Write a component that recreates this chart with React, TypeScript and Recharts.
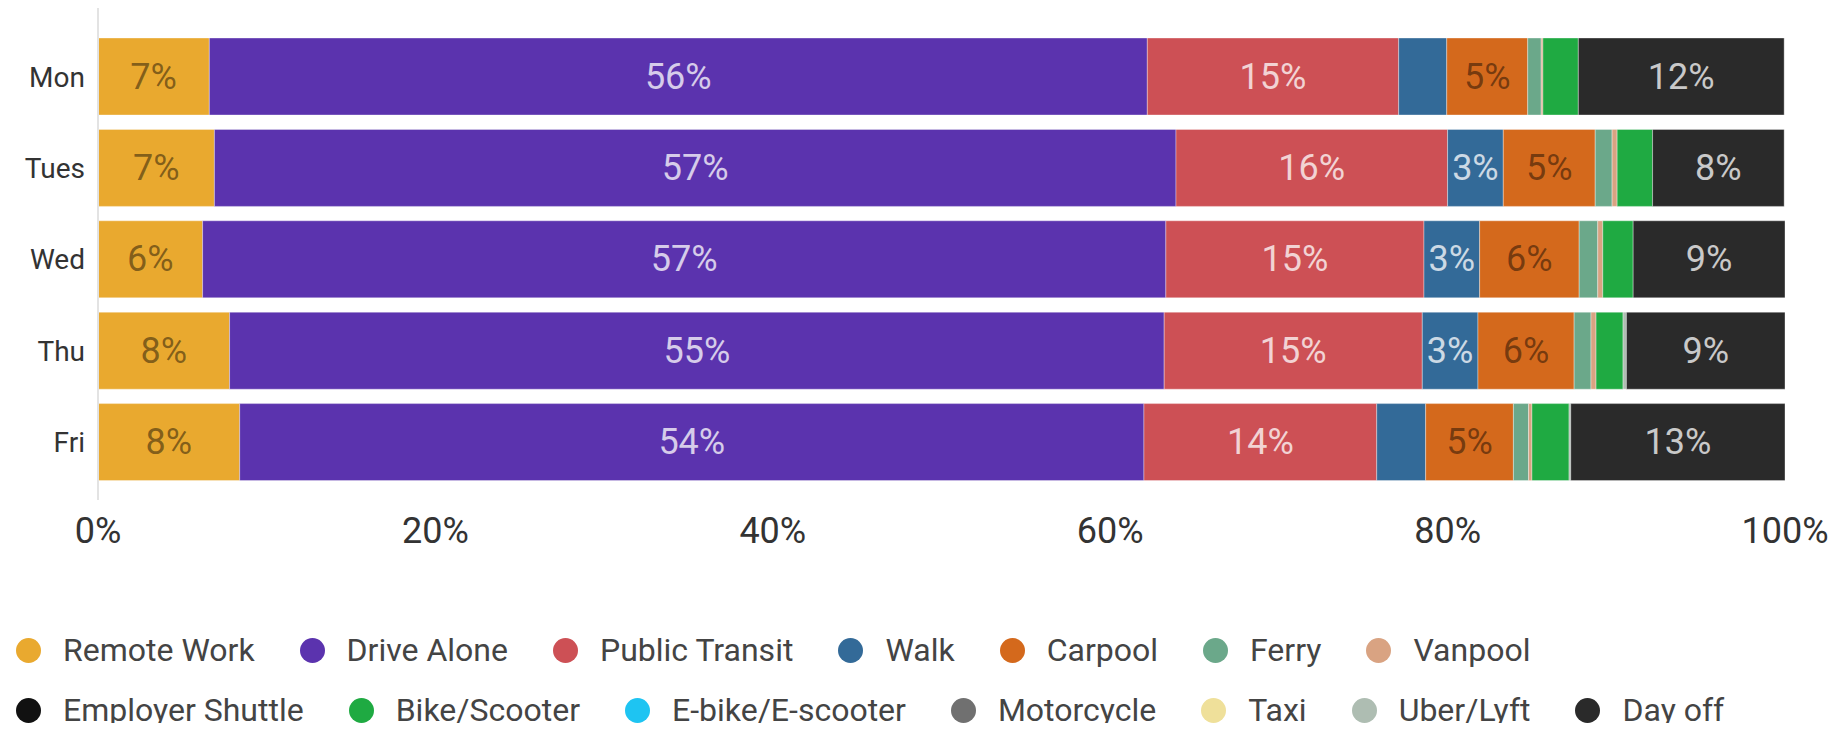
import { BarChart, Bar, XAxis, YAxis, LabelList } from 'recharts'

const DAYS = ['Mon', 'Tues', 'Wed', 'Thu', 'Fri']

// share of commuters per mode, in percent, Mon..Fri
const REMOTE_WORK = [6.6, 6.9, 6.2, 7.8, 8.4]
const DRIVE_ALONE = [55.6, 57.0, 57.1, 55.4, 53.6]
const PUBLIC_TRANSIT = [14.9, 16.1, 15.3, 15.3, 13.8]
const WALK = [2.85, 3.3, 3.3, 3.3, 2.9]
const CARPOOL = [4.8, 5.45, 5.9, 5.7, 5.2]
const FERRY = [0.8, 1.0, 1.1, 1.0, 0.9]
const VANPOOL = [0.1, 0.3, 0.3, 0.3, 0.2]
const EMPLOYER_SHUTTLE = [0, 0, 0, 0, 0]
const BIKE_SCOOTER = [2.1, 2.1, 1.8, 1.6, 2.2]
const EBIKE = [0, 0, 0, 0, 0]
const MOTORCYCLE = [0, 0, 0, 0, 0]
const TAXI = [0, 0, 0, 0, 0]
const UBER_LYFT = [0, 0, 0, 0.2, 0.1]
const DAY_OFF = [12.2, 7.8, 9.0, 9.4, 12.7]

const X_TICKS = [0, 20, 40, 60, 80, 100]

const SERIES = [
    { key: 'Remote Work', values: REMOTE_WORK, color: '#E9A92F', dark: true },
    { key: 'Drive Alone', values: DRIVE_ALONE, color: '#5B33AE', dark: false },
    { key: 'Public Transit', values: PUBLIC_TRANSIT, color: '#CD5055', dark: false },
    { key: 'Walk', values: WALK, color: '#336A98', dark: false },
    { key: 'Carpool', values: CARPOOL, color: '#D4691C', dark: true },
    { key: 'Ferry', values: FERRY, color: '#6BA88A', dark: true },
    { key: 'Vanpool', values: VANPOOL, color: '#D9A382', dark: true },
    { key: 'Employer Shuttle', values: EMPLOYER_SHUTTLE, color: '#111111', dark: false },
    { key: 'Bike/Scooter', values: BIKE_SCOOTER, color: '#1FAA42', dark: false },
    { key: 'E-bike/E-scooter', values: EBIKE, color: '#1EC4F2', dark: true },
    { key: 'Motorcycle', values: MOTORCYCLE, color: '#707070', dark: false },
    { key: 'Taxi', values: TAXI, color: '#EFE09A', dark: true },
    { key: 'Uber/Lyft', values: UBER_LYFT, color: '#AEBDB2', dark: true },
    { key: 'Day off', values: DAY_OFF, color: '#2A2A2A', dark: false },
]

const FONT = 'Roboto, "Liberation Sans", Arial, sans-serif'

const data = DAYS.map((day, i) => {
    const row: Record<string, string | number> = { day }
    SERIES.forEach((s) => {
        row[s.key] = s.values[i]
    })
    return row
})

// only label segments wide enough to hold the text
function makeLabel(dark: boolean) {
    return (props: any) => {
        const { x, y, width, height, value } = props
        if (!width || width < 52) return null
        return (
            <text
                x={x + width / 2}
                y={y + height / 2}
                textAnchor="middle"
                dominantBaseline="central"
                fontSize={36}
                fontFamily={FONT}
                fill={dark ? 'rgba(0,0,0,0.45)' : 'rgba(255,255,255,0.75)'}
            >
                {Math.round(value)}%
            </text>
        )
    }
}

function LegendRow({ items, top }: { items: typeof SERIES; top: number }) {
    return (
        <div style={{ position: 'absolute', left: 16, top, display: 'flex', alignItems: 'center' }}>
            {items.map((s) => (
                <div key={s.key} style={{ display: 'flex', alignItems: 'center', marginRight: 45 }}>
                    <span
                        style={{
                            width: 25,
                            height: 25,
                            borderRadius: '50%',
                            background: s.color,
                            display: 'inline-block',
                            marginRight: 22,
                        }}
                    />
                    <span style={{ fontSize: 32, color: '#444', fontFamily: FONT, lineHeight: '40px' }}>
                        {s.key}
                    </span>
                </div>
            ))}
        </div>
    )
}

export default function App() {
    return (
        <div style={{ margin: -8, position: 'relative', width: 1836, height: 731, background: '#fff' }}>
            <BarChart
                width={1836}
                height={731}
                data={data}
                layout="vertical"
                margin={{ top: 7, right: 51, left: 0, bottom: 171 }}
            >
                <XAxis
                    type="number"
                    domain={[0, 100]}
                    ticks={X_TICKS}
                    interval={0}
                    tickFormatter={(v) => `${v}%`}
                    axisLine={false}
                    tickLine={false}
                    tickMargin={11}
                    height={60}
                    tick={{ fill: '#333', fontSize: 36, fontFamily: FONT }}
                />
                <YAxis
                    type="category"
                    dataKey="day"
                    width={98}
                    padding={{ top: 24, bottom: 12 }}
                    tickLine={false}
                    tickMargin={7}
                    axisLine={{ stroke: '#e3e3e3', strokeWidth: 2 }}
                    tick={{ fill: '#333', fontSize: 28, fontFamily: FONT }}
                />
                {SERIES.map((s) => (
                    <Bar
                        key={s.key}
                        dataKey={s.key}
                        stackId="a"
                        fill={s.color}
                        barSize={77}
                        stroke="rgba(255,255,255,0.35)"
                        strokeWidth={1}
                        isAnimationActive={false}
                    >
                        <LabelList dataKey={s.key} content={makeLabel(s.dark)} />
                    </Bar>
                ))}
            </BarChart>
            <LegendRow items={SERIES.slice(0, 7)} top={630} />
            <LegendRow items={SERIES.slice(7)} top={690} />
        </div>
    )
}
